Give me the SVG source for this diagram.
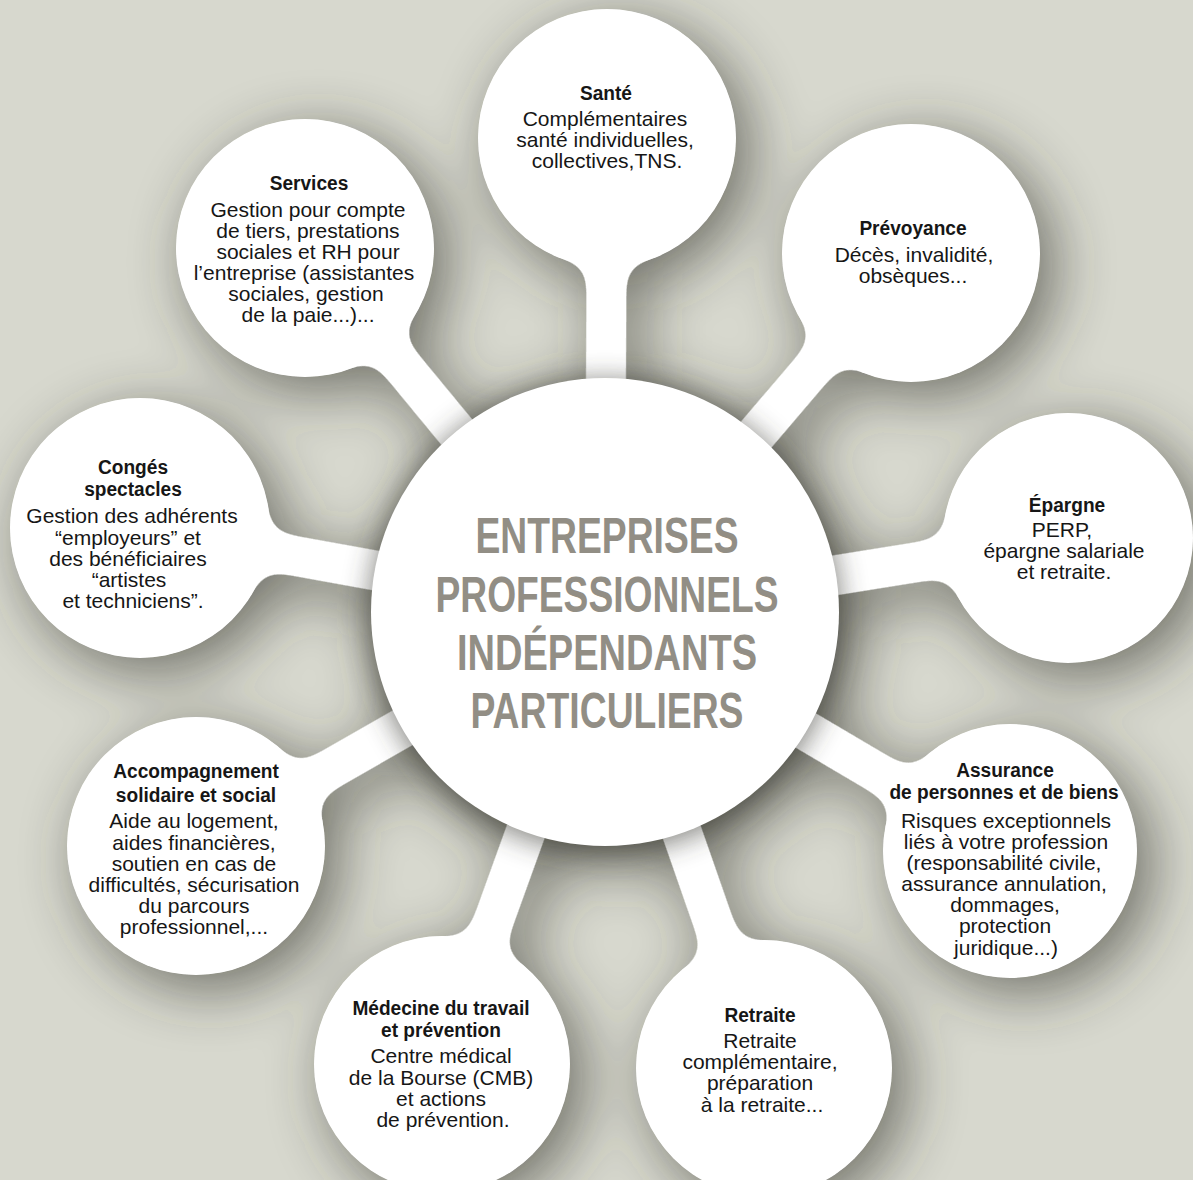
<svg xmlns="http://www.w3.org/2000/svg" width="1193" height="1180" viewBox="0 0 1193 1180">
<defs>
<style>
.b{font-family:"Liberation Sans",Arial,Helvetica,sans-serif;font-size:21px;fill:#161616;text-anchor:middle}
.h{font-weight:bold;font-size:21px;transform-box:fill-box;transform-origin:center;transform:scaleX(0.91)}
.c{font-family:"Liberation Sans",Arial,Helvetica,sans-serif;font-size:50px;font-weight:bold;fill:#928e85;text-anchor:middle}
.w{fill:#ffffff}
.stem{stroke:#ffffff;stroke-width:40;fill:none}
.sh{fill:#2e2f28}
.shs{stroke:#2e2f28;stroke-width:40;fill:none}
</style>
<filter id="goo" filterUnits="userSpaceOnUse" x="-100" y="-100" width="1400" height="1400" color-interpolation-filters="sRGB">
<feGaussianBlur in="SourceGraphic" stdDeviation="13"/>
<feColorMatrix values="0 0 0 0 1  0 0 0 0 1  0 0 0 0 1  0 0 0 24 -11.5"/>
</filter>
<filter id="soft" filterUnits="userSpaceOnUse" x="-200" y="-200" width="1600" height="1600">
<feGaussianBlur stdDeviation="30"/>
</filter>
<filter id="near" filterUnits="userSpaceOnUse" x="-200" y="-200" width="1600" height="1600">
<feGaussianBlur stdDeviation="14"/>
</filter>
</defs>
<rect width="1193" height="1180" fill="#d7d8ce"/>
<g id="shadows" filter="url(#soft)" opacity="0.62" transform="translate(14,14)">
<g class="shs">
<line x1="605" y1="612" x2="607" y2="138"/>
<line x1="605" y1="612" x2="305" y2="248"/>
<line x1="605" y1="612" x2="911" y2="253"/>
<line x1="605" y1="612" x2="1068" y2="538"/>
<line x1="605" y1="612" x2="1010" y2="851"/>
<line x1="605" y1="612" x2="764" y2="1068"/>
<line x1="605" y1="612" x2="442" y2="1064"/>
<line x1="605" y1="612" x2="196" y2="846"/>
<line x1="605" y1="612" x2="140" y2="528"/>
</g>
<circle class="sh" cx="605" cy="612" r="240"/>
<circle class="sh" cx="607" cy="138" r="129"/>
<circle class="sh" cx="305" cy="248" r="129"/>
<circle class="sh" cx="911" cy="253" r="129"/>
<circle class="sh" cx="1068" cy="538" r="125"/>
<circle class="sh" cx="1010" cy="851" r="127"/>
<circle class="sh" cx="764" cy="1068" r="128"/>
<circle class="sh" cx="442" cy="1064" r="128"/>
<circle class="sh" cx="196" cy="846" r="129"/>
<circle class="sh" cx="140" cy="528" r="130"/>
</g>
<g id="connectors">
<g filter="url(#goo)">
<g class="stem">
<line x1="605" y1="612" x2="607" y2="138"/>
<line x1="605" y1="612" x2="305" y2="248"/>
<line x1="605" y1="612" x2="911" y2="253"/>
<line x1="605" y1="612" x2="1068" y2="538"/>
<line x1="605" y1="612" x2="1010" y2="851"/>
<line x1="605" y1="612" x2="764" y2="1068"/>
<line x1="605" y1="612" x2="442" y2="1064"/>
<line x1="605" y1="612" x2="196" y2="846"/>
<line x1="605" y1="612" x2="140" y2="528"/>
</g>
<circle class="w" cx="607" cy="138" r="129"/>
<circle class="w" cx="305" cy="248" r="129"/>
<circle class="w" cx="911" cy="253" r="129"/>
<circle class="w" cx="1068" cy="538" r="125"/>
<circle class="w" cx="1010" cy="851" r="127"/>
<circle class="w" cx="764" cy="1068" r="128"/>
<circle class="w" cx="442" cy="1064" r="128"/>
<circle class="w" cx="196" cy="846" r="129"/>
<circle class="w" cx="140" cy="528" r="130"/>
</g>
</g>
<circle id="hub-shadow" cx="605" cy="616" r="236" fill="#34352e" opacity="0.6" filter="url(#near)"/>

<g id="node-sante">
<circle class="w" cx="607" cy="138" r="129"/>
<text class="b h" x="606" y="100">Santé</text>
<text class="b" x="605" y="126">Complémentaires</text>
<text class="b" x="605" y="147">santé individuelles,</text>
<text class="b" x="607" y="168">collectives,TNS.</text>
</g>
<g id="node-services">
<circle class="w" cx="305" cy="248" r="129"/>
<text class="b h" x="309" y="190">Services</text>
<text class="b" x="308" y="217">Gestion pour compte</text>
<text class="b" x="308" y="238">de tiers, prestations</text>
<text class="b" x="308" y="259">sociales et RH pour</text>
<text class="b" x="304" y="280">l’entreprise (assistantes</text>
<text class="b" x="306" y="301">sociales, gestion</text>
<text class="b" x="308" y="322">de la paie...)...</text>
</g>
<g id="node-prevoyance">
<circle class="w" cx="911" cy="253" r="129"/>
<text class="b h" x="913" y="235">Prévoyance</text>
<text class="b" x="914" y="262">Décès, invalidité,</text>
<text class="b" x="913" y="283">obsèques...</text>
</g>
<g id="node-epargne">
<circle class="w" cx="1068" cy="538" r="125"/>
<text class="b h" x="1067" y="512">Épargne</text>
<text class="b" x="1062" y="537">PERP,</text>
<text class="b" x="1064" y="558">épargne salariale</text>
<text class="b" x="1064" y="579">et retraite.</text>
</g>
<g id="node-assurance">
<circle class="w" cx="1010" cy="851" r="127"/>
<text class="b h" x="1005" y="777">Assurance</text>
<text class="b h" x="1004" y="799">de personnes et de biens</text>
<text class="b" x="1006" y="828">Risques exceptionnels</text>
<text class="b" x="1006" y="849">liés à votre profession</text>
<text class="b" x="1004" y="870">(responsabilité civile,</text>
<text class="b" x="1004" y="891">assurance annulation,</text>
<text class="b" x="1005" y="912">dommages,</text>
<text class="b" x="1005" y="933">protection</text>
<text class="b" x="1006" y="955">juridique...)</text>
</g>
<g id="node-retraite">
<circle class="w" cx="764" cy="1068" r="128"/>
<text class="b h" x="760" y="1022">Retraite</text>
<text class="b" x="760" y="1048">Retraite</text>
<text class="b" x="760" y="1069">complémentaire,</text>
<text class="b" x="760" y="1090">préparation</text>
<text class="b" x="762" y="1112">à la retraite...</text>
</g>
<g id="node-medecine">
<circle class="w" cx="442" cy="1064" r="128"/>
<text class="b h" x="441" y="1015">Médecine du travail</text>
<text class="b h" x="441" y="1037">et prévention</text>
<text class="b" x="441" y="1063">Centre médical</text>
<text class="b" x="441" y="1085">de la Bourse (CMB)</text>
<text class="b" x="441" y="1106">et actions</text>
<text class="b" x="443" y="1127">de prévention.</text>
</g>
<g id="node-accompagnement">
<circle class="w" cx="196" cy="846" r="129"/>
<text class="b h" x="196" y="778">Accompagnement</text>
<text class="b h" x="196" y="802">solidaire et social</text>
<text class="b" x="194" y="828">Aide au logement,</text>
<text class="b" x="194" y="850">aides financières,</text>
<text class="b" x="194" y="871">soutien en cas de</text>
<text class="b" x="194" y="892">difficultés, sécurisation</text>
<text class="b" x="194" y="913">du parcours</text>
<text class="b" x="194" y="934">professionnel,...</text>
</g>
<g id="node-conges">
<circle class="w" cx="140" cy="528" r="130"/>
<text class="b h" x="133" y="474">Congés</text>
<text class="b h" x="133" y="496">spectacles</text>
<text class="b" x="132" y="523">Gestion des adhérents</text>
<text class="b" x="128" y="545">“employeurs” et</text>
<text class="b" x="128" y="566">des bénéficiaires</text>
<text class="b" x="129" y="587">“artistes</text>
<text class="b" x="133" y="608">et techniciens”.</text>
</g>
<g id="node-center">
<circle class="w" cx="605" cy="612" r="234"/>
<text class="c" x="607" y="553" textLength="263" lengthAdjust="spacingAndGlyphs">ENTREPRISES</text>
<text class="c" x="607" y="612" textLength="343" lengthAdjust="spacingAndGlyphs">PROFESSIONNELS</text>
<text class="c" x="607" y="670" textLength="300" lengthAdjust="spacingAndGlyphs">INDÉPENDANTS</text>
<text class="c" x="607" y="728" textLength="273" lengthAdjust="spacingAndGlyphs">PARTICULIERS</text>
</g>
</svg>
